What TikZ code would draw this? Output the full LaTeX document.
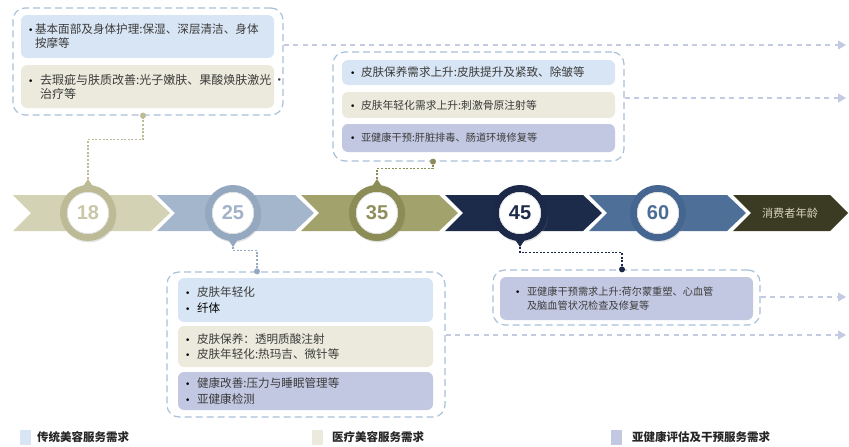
\documentclass[tikz,border=0pt]{standalone}
\usepackage{fontspec}
\setmainfont{Noto Sans CJK SC}
\newfontfamily\numfont{Liberation Sans}
\newfontfamily\bulfont{DejaVu Sans}
\usetikzlibrary{arrows.meta,calc,shadows}
\definecolor{outline}{HTML}{A8C0D8}
\definecolor{arrowcol}{HTML}{C3CAE1}
\definecolor{inblue}{HTML}{D8E5F4}
\definecolor{inbeige}{HTML}{EBEADC}
\definecolor{inpurple}{HTML}{C2C8E2}
\definecolor{txt}{HTML}{3C3C3C}
\definecolor{chevA}{HTML}{D3D2B4}
\definecolor{chevB}{HTML}{A4B6CC}
\definecolor{chevC}{HTML}{A2A26C}
\definecolor{chevD}{HTML}{1D2B4B}
\definecolor{chevE}{HTML}{4E6F98}
\definecolor{chevF}{HTML}{3A3B22}
\definecolor{ringA}{HTML}{BDBB95}
\definecolor{ringB}{HTML}{94A8C0}
\definecolor{ringC}{HTML}{8C8C56}
\definecolor{ringD}{HTML}{1B2848}
\definecolor{ringE}{HTML}{456690}
\definecolor{numA}{HTML}{C8C7AA}
\definecolor{numB}{HTML}{A2B2C7}
\definecolor{numC}{HTML}{8E8E5E}
\definecolor{numD}{HTML}{1E2B4A}
\definecolor{numE}{HTML}{4B6C95}
\definecolor{chevtext}{HTML}{D9D6C0}
\newcommand\bul[1][10pt]{\makebox[#1][l]{\color{black}\bulfont\fontsize{9}{9}\selectfont\char"2022}}
\begin{document}
\begin{tikzpicture}[x=1pt,y=-1pt,
  outbox/.style={draw=outline, dash pattern=on 7pt off 4pt, line width=1.2pt, rounded corners=12pt, inner sep=0pt},
  inb/.style={rounded corners=6pt, inner ysep=0pt, align=left, text=txt},
  age/.style={circle, minimum size=49pt, inner sep=0pt, line width=7pt, fill=white,
     font=\numfont\bfseries\fontsize{20}{20}\selectfont,
     drop shadow={opacity=0.22, shadow xshift=0.8pt, shadow yshift=-1.8pt, shadow scale=1.12}},
  farrow/.style={draw=arrowcol, line width=1.2pt, dash pattern=on 5pt off 4.5pt, -{Triangle[length=8pt,width=9pt,fill=arrowcol]}},
  dotline/.style={line width=1.3pt, dash pattern=on 2pt off 1.6pt},
  legsq/.style={minimum width=11pt, minimum height=15pt, inner sep=0pt},
  legtxt/.style={inner sep=0pt, anchor=west, text=black!85, font=\bfseries\fontsize{11.5}{12}\selectfont}
]
\useasboundingbox (0,0) rectangle (849,447);

% timeline chevrons
\foreach \x/\c in {13/chevA,157/chevB,301/chevC,445/chevD,589/chevE}
  \fill[\c] (\x,195) -- ++(138,0) -- ++(19,18) -- ++(-19,18) -- ++(-138,0) -- ++(18,-18) -- cycle;
\fill[chevF] (733,195) -- (830,195) -- (848,213) -- (830,231) -- (733,231) -- (751,213) -- cycle;
\node[text=chevtext, inner sep=0pt, font=\fontsize{11.2}{12}\selectfont] (lbl) at (790,213) {消费者年龄};

% boxes
\node[outbox, minimum width=270pt, minimum height=107pt] (b1) at (148,61.5) {};
\node[inb, fill=inblue, minimum height=43pt, text width=239pt, inner xsep=7pt, font=\fontsize{11.6}{14}\selectfont] (b1a) at (147.5,36.5)
  {\bul[7pt]基本面部及身体护理:保湿、深层清洁、身体\\\hspace*{7pt}按摩等};
\node[inb, fill=inbeige, minimum height=43pt, text width=239pt, inner xsep=7pt, font=\fontsize{12}{14}\selectfont] (b1b) at (147.5,86.5)
  {\bul[12pt]去瑕疵与肤质改善:光子嫩肤、果酸焕肤激光\,·\\\hspace*{12pt}治疗等};

\node[outbox, minimum width=291pt, minimum height=109pt] (b2) at (478.5,106.5) {};
\node[inb, fill=inblue, minimum height=25pt, text width=257pt, inner xsep=8pt, font=\fontsize{11.6}{14}\selectfont] (b2a) at (478.5,72.5)
  {\bul[11pt]皮肤保养需求上升:皮肤提升及紧致、除皱等};
\node[inb, fill=inbeige, minimum height=26pt, text width=257pt, inner xsep=8pt, font=\fontsize{10.8}{13}\selectfont] (b2b) at (478.5,105)
  {\bul[11pt]皮肤年轻化需求上升:刺激骨原注射等};
\node[inb, fill=inpurple, minimum height=28pt, text width=257pt, inner xsep=8pt, font=\fontsize{10.2}{13}\selectfont] (b2c) at (478.5,138)
  {\bul[11pt]亚健康干预:肝脏排毒、肠道环境修复等};

\node[outbox, minimum width=278pt, minimum height=145pt] (b3) at (306,344.5) {};
\node[inb, fill=inblue, minimum height=44pt, text width=241pt, inner xsep=7pt, font=\fontsize{11.6}{15.5}\selectfont] (b3a) at (305.5,300)
  {\bul[12pt]皮肤年轻化\\\bul[12pt]{\color{black}纤体}};
\node[inb, fill=inbeige, minimum height=41pt, text width=241pt, inner xsep=7pt, font=\fontsize{11.6}{15.5}\selectfont] (b3b) at (305.5,346.5)
  {\bul[12pt]皮肤保养：透明质酸注射\\\bul[12pt]皮肤年轻化:热玛吉、微针等};
\node[inb, fill=inpurple, minimum height=38pt, text width=241pt, inner xsep=7pt, font=\fontsize{11.6}{15.5}\selectfont] (b3c) at (305.5,391)
  {\bul[12pt]健康改善:压力与睡眠管理等\\\bul[12pt]亚健康检测};

\node[outbox, minimum width=267pt, minimum height=55pt] (b4) at (626.5,297.5) {};
\node[inb, fill=inpurple, minimum height=43pt, text width=223pt, inner xsep=15pt, font=\fontsize{10.2}{14}\selectfont] (b4a) at (626.5,298.5)
  {\bul[12pt]亚健康干预需求上升:荷尔蒙重塑、心血管\\\hspace*{12pt}及脑血管状况检查及修复等};

% junction points on boxes
\coordinate (d1) at ($(b1.south)+(-5,0)$);
\coordinate (d2) at ($(b2.south)+(-45.5,0)$);
\coordinate (d3) at ($(b3.north)+(-49,0)$);
\coordinate (d4) at ($(b4.north)+(-4.5,0)$);

% age circles
\node[age, draw=ringA, text=numA] (c18) at (88,213) {18};
\node[age, draw=ringB, text=numB] (c25) at (233,213) {25};
\node[age, draw=ringC, text=numC] (c35) at (377,213) {35};
\node[age, draw=ringD, text=numD] (c45) at (520,213) {45};
\node[age, draw=ringE, text=numE] (c60) at (658,213) {60};
\foreach \c in {c18,c25,c35,c45,c60}
  \draw[black!12, line width=0.8pt] (\c.center) circle (20.6pt);

% pins
\coordinate (p18) at ($(c18.center)+(0,-34)$);
\coordinate (p25) at ($(c25.center)+(0,34)$);
\coordinate (p35) at ($(c35.center)+(0,-34)$);
\coordinate (p45) at ($(c45.center)+(0,34)$);
\fill[ringA] ($(c18.center)+(-6,-25)$) -- (p18) -- ($(c18.center)+(6,-25)$) -- cycle;
\fill[ringB] ($(c25.center)+(-6,25)$) -- (p25) -- ($(c25.center)+(6,25)$) -- cycle;
\fill[ringC] ($(c35.center)+(-6,-25)$) -- (p35) -- ($(c35.center)+(6,-25)$) -- cycle;
\fill[ringD] ($(c45.center)+(-6,25)$) -- (p45) -- ($(c45.center)+(6,25)$) -- cycle;

% connectors
\draw[dotline, draw=ringA] (p18) |- ($(d1)+(0,24)$) -- (d1);
\draw[dotline, draw=ringB] (p25) |- ($(d3)+(0,-21)$) -- (d3);
\draw[dotline, draw=ringC] (p35) |- ($(d2)+(0,7)$) -- (d2);
\draw[dotline, draw=ringD] (p45) |- ($(d4)+(0,-17)$) -- (d4);
\fill[ringA] (d1) circle (3pt);
\fill[ringC] (d2) circle (3pt);
\fill[ringB] (d3) circle (3pt);
\fill[ringD] (d4) circle (3pt);

% dashed arrows to the right
\coordinate (e1) at (846,45);
\coordinate (e2) at (846,98);
\coordinate (e3) at (846,335);
\coordinate (e4) at (846,297);
\draw[farrow] (b1.east |- e1) -- (e1);
\draw[farrow] (b2.east |- e2) -- (e2);
\draw[farrow] (b3.east |- e3) -- (e3);
\draw[farrow] (b4.east |- e4) -- (e4);

% legend
\node[legsq, fill=inblue] (l1) at (25.5,437) {};
\node[legtxt] (t1) at (37,437) {传统美容服务需求};
\node[legsq, fill=inbeige] (l2) at (317.5,437) {};
\node[legtxt] (t2) at (332,437) {医疗美容服务需求};
\node[legsq, fill=inpurple] (l3) at (616,437) {};
\node[legtxt] (t3) at (632,437) {亚健康评估及干预服务需求};
\end{tikzpicture}
\end{document}
